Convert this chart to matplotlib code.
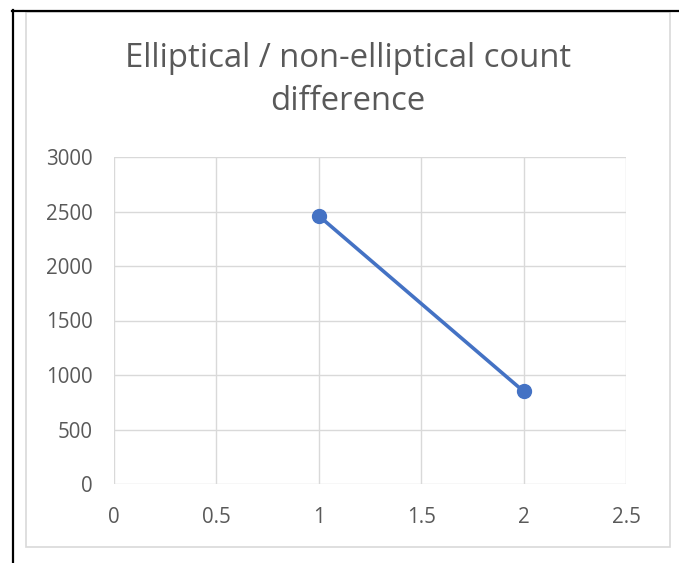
import matplotlib.pyplot as plt
from matplotlib.lines import Line2D
from matplotlib.patches import Rectangle

# data
x_vals = [1, 2]
y_vals = [2460, 850]
x_ticks = [0, 0.5, 1, 1.5, 2, 2.5]
y_ticks = [0, 500, 1000, 1500, 2000, 2500, 3000]
title = "Elliptical / non-elliptical count\ndifference"

W, H = 679, 563
fig = plt.figure(figsize=(W / 100, H / 100), dpi=100)
plt.rcParams['font.family'] = ['Open Sans', 'DejaVu Sans']

# outer frame (black lines at left and top) and grey chart border
fig.add_artist(Line2D([12.5 / W, 12.5 / W], [0, 1 - 10 / H], color='black', lw=1.6))
fig.add_artist(Line2D([12 / W, 1], [1 - 10.5 / H, 1 - 10.5 / H], color='black', lw=1.6))
fig.add_artist(Rectangle((26 / W, 1 - 547 / H), (670 - 26) / W, (547 - 12) / H,
                         fill=False, edgecolor='#d9d9d9', lw=1.2))

ax = fig.add_axes([114 / W, 1 - 484 / H, (626 - 114) / W, (484 - 157) / H])
ax.plot(x_vals, y_vals, color='#4472c4', lw=2.6, marker='o', markersize=10, zorder=3)

ax.set_xlim(0, 2.5)
ax.set_ylim(0, 3000)
ax.set_xticks(x_ticks)
ax.set_yticks(y_ticks)
ax.set_xticklabels(['0', '0.5', '1', '1.5', '2', '2.5'])
ax.grid(True, color='#d9d9d9', lw=1)
ax.set_axisbelow(True)
for s in ax.spines.values():
    s.set_visible(False)
ax.tick_params(length=0, labelsize=14.8, labelcolor='#595959')
ax.tick_params(axis='x', pad=16.5)
ax.tick_params(axis='y', pad=15.5)

fig.text(348 / W, 1 - 80 / H, title, ha='center', va='center', fontsize=23.7,
         color='#595959', linespacing=1.42)

fig.savefig('out.png', dpi=100)
